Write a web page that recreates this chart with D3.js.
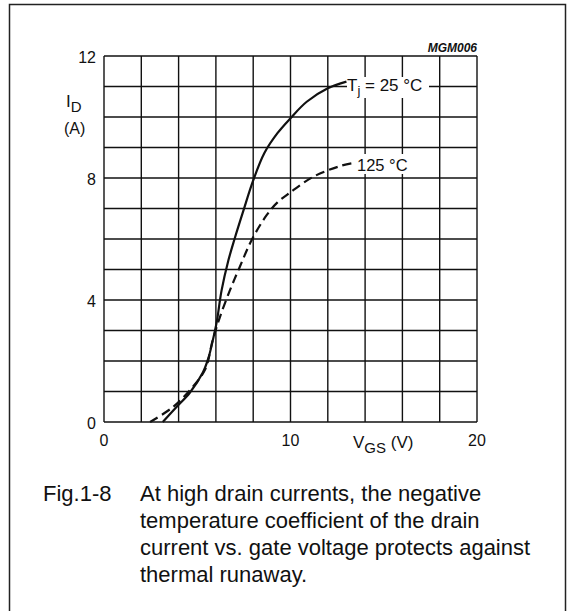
<!DOCTYPE html>
<html>
<head>
<meta charset="utf-8">
<script src="https://cdn.jsdelivr.net/npm/d3@7/dist/d3.min.js"></script>
<style>
  html, body { margin: 0; padding: 0; background: #fff; }
  svg { display: block; }
  text { font-family: "Liberation Sans", Arial, Helvetica, sans-serif; fill: #111; }
</style>
</head>
<body>
<svg id="chart" width="569" height="611"></svg>
<script>
// ---- data ----
const xTickLabels = [0, 10, 20];
const yTickLabels = [0, 4, 8, 12];
const xGrid = [0, 2, 4, 6, 8, 10, 12, 14, 16, 18, 20];
const yGrid = [0, 1, 2, 3, 4, 5, 6, 7, 8, 9, 10, 11, 12];

const vgs25 = [3.15, 3.9, 4.6, 5.3, 5.6, 5.85, 6.05, 6.3, 6.67, 7.0, 7.47, 8.0, 8.6, 9.3, 10.0, 10.87, 12.0, 13.0];
const id25  = [0, 0.5, 0.96, 1.62, 2.1, 2.72, 3.3, 4.3, 5.3, 6.0, 6.92, 7.92, 8.82, 9.47, 9.96, 10.5, 10.94, 11.16];

const vgs125 = [2.47, 3.72, 4.61, 5.42, 5.83, 6.22, 6.76, 7.29, 7.92, 8.72, 9.3, 9.97, 11.22, 12.65, 13.28];
const id125  = [0, 0.5, 1.05, 1.72, 2.69, 3.45, 4.33, 5.1, 5.97, 6.78, 7.2, 7.52, 8.04, 8.39, 8.48];

const label25 = "25 °C";
const label125 = "125 °C";
const caption = [
  "At high drain currents, the negative",
  "temperature coefficient of the drain",
  "current vs. gate voltage protects against",
  "thermal runaway."
];

// ---- layout ----
const svg = d3.select("#chart");
const x = d3.scaleLinear().domain([0, 20]).range([104, 477]);
const y = d3.scaleLinear().domain([0, 12]).range([422, 56]);

// outer frame
svg.append("rect")
  .attr("x", 9.5).attr("y", 4.5).attr("width", 556).attr("height", 620)
  .attr("fill", "none").attr("stroke", "#222").attr("stroke-width", 1.5);

// grid
const g = svg.append("g");
g.selectAll("line.v").data(xGrid).join("line")
  .attr("x1", d => x(d)).attr("x2", d => x(d))
  .attr("y1", y(0)).attr("y2", y(12))
  .attr("stroke", "#111").attr("stroke-width", 1.4);
g.selectAll("line.h").data(yGrid).join("line")
  .attr("y1", d => y(d)).attr("y2", d => y(d))
  .attr("x1", x(0)).attr("x2", x(20))
  .attr("stroke", "#111").attr("stroke-width", 1.4);

// tick labels
svg.selectAll("text.yt").data(yTickLabels).join("text")
  .attr("x", 96).attr("y", d => y(d) + 7)
  .attr("text-anchor", "end").attr("font-size", 16)
  .text(d => d);
svg.selectAll("text.xt").data(xTickLabels).join("text")
  .attr("x", d => x(d)).attr("y", 446)
  .attr("text-anchor", "middle").attr("font-size", 16)
  .text(d => d);

// axis titles
const yl = svg.append("text").attr("x", 66).attr("y", 107).attr("font-size", 17);
yl.append("tspan").text("I");
yl.append("tspan").attr("dy", 5).attr("font-size", 15).text("D");
svg.append("text").attr("x", 64).attr("y", 134).attr("font-size", 16).text("(A)");

const xl = svg.append("text").attr("x", 353).attr("y", 448).attr("font-size", 17);
xl.append("tspan").text("V");
xl.append("tspan").attr("dy", 5).attr("font-size", 15).text("GS");
xl.append("tspan").attr("dy", -5).text(" (V)");

svg.append("text").attr("x", 477).attr("y", 52).attr("text-anchor", "end")
  .attr("font-size", 12).attr("font-style", "italic").attr("font-weight", "bold")
  .text("MGM006");

// curves
const line = d3.line().x(d => x(d[0])).y(d => y(d[1])).curve(d3.curveCatmullRom.alpha(0.5));
const pts25 = vgs25.map((v, i) => [v, id25[i]]);
const pts125 = vgs125.map((v, i) => [v, id125[i]]);

svg.append("path").attr("d", line(pts125))
  .attr("fill", "none").attr("stroke", "#111").attr("stroke-width", 2.2)
  .attr("stroke-dasharray", "9,5");
svg.append("path").attr("d", line(pts25))
  .attr("fill", "none").attr("stroke", "#111").attr("stroke-width", 2.2);

// curve labels with white background
svg.append("rect").attr("x", 347).attr("y", 77).attr("width", 82).attr("height", 21).attr("fill", "#fff");
const t25 = svg.append("text").attr("x", 347).attr("y", 91).attr("font-size", 17);
t25.append("tspan").text("T");
t25.append("tspan").attr("dy", 4).attr("font-size", 13).text("j");
t25.append("tspan").attr("dy", -4).text(" = " + label25);

svg.append("rect").attr("x", 355).attr("y", 154).attr("width", 56).attr("height", 20).attr("fill", "#fff");
svg.append("text").attr("x", 357).attr("y", 171).attr("font-size", 16.5).text(label125);

// caption
svg.append("text").attr("x", 43).attr("y", 501).attr("font-size", 22).text("Fig.1-8");
svg.selectAll("text.cap").data(caption).join("text")
  .attr("x", 140).attr("y", (d, i) => 501 + i * 27)
  .attr("font-size", 22)
  .text(d => d);
</script>
</body>
</html>
